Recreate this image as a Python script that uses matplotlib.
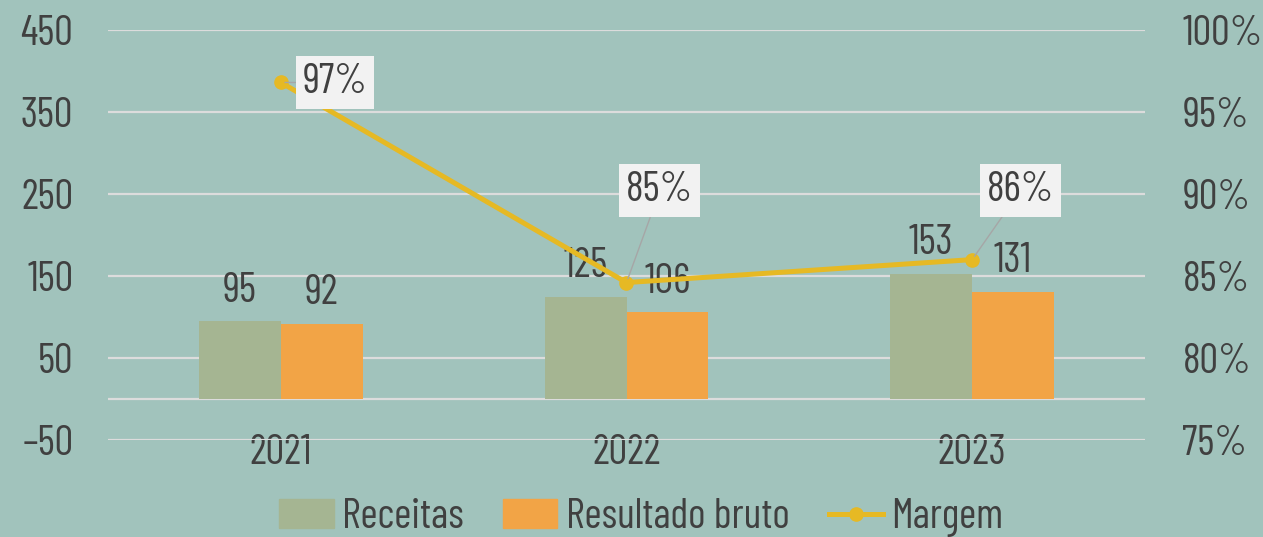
import matplotlib
matplotlib.use("Agg")
import matplotlib.pyplot as plt
from matplotlib.patches import Patch
from matplotlib.lines import Line2D

# data
anos = ["2021", "2022", "2023"]
receitas = [95, 125, 153]
resultado = [92, 106, 131]
margem = [0.968, 0.846, 0.860]
margem_labels = ["97%", "85%", "86%"]

bg = "#a1c3bc"
c_rec = "#a5b592"
c_res = "#f2a446"
c_mar = "#e6b924"
c_txt = "#404040"
c_grid = "#dcdcdc"

plt.rcParams["font.family"] = ["Barlow Condensed", "DejaVu Sans"]
fs = 30

fig = plt.figure(figsize=(12.63, 5.37), dpi=100, facecolor=bg)
ax = fig.add_axes([108 / 1263, 97 / 537, 1037 / 1263, 410 / 537])
ax.set_facecolor(bg)

x = list(range(len(anos)))
w = 0.237
b1 = ax.bar([i - w / 2 for i in x], receitas, w, color=c_rec, zorder=3)
b2 = ax.bar([i + w / 2 for i in x], resultado, w, color=c_res, zorder=3)

# value labels on the bars
for bars, vals in ((b1, receitas), (b2, resultado)):
    for bar, v in zip(bars, vals):
        ax.annotate(str(v), (bar.get_x() + bar.get_width() / 2, v),
                    xytext=(0, 14), textcoords="offset points",
                    ha="center", va="baseline", fontsize=fs, color=c_txt, zorder=5)

ax.set_xlim(-0.5, 2.5)
ax.set_ylim(-50, 450)
ax.set_yticks([-50, 50, 150, 250, 350, 450])
ax.set_yticklabels(["\u201350", "50", "150", "250", "350", "450"])
ax.yaxis.grid(True, color=c_grid, lw=1.6, zorder=0)
ax.axhline(0, color=c_grid, lw=1.6, zorder=1)
ax.set_axisbelow(True)
ax.set_xticks(x)
ax.set_xticklabels(anos)
ax.tick_params(axis="y", length=0, pad=25, labelsize=fs, labelcolor=c_txt)
ax.tick_params(axis="x", length=0, pad=-4, labelsize=fs, labelcolor=c_txt)
for s in ax.spines.values():
    s.set_visible(False)

ax2 = ax.twinx()
ax2.set_ylim(0.75, 1.0)
ax2.set_yticks([0.75, 0.80, 0.85, 0.90, 0.95, 1.0])
ax2.set_yticklabels(["75%", "80%", "85%", "90%", "95%", "100%"])
ax2.tick_params(axis="y", length=0, pad=27, labelsize=fs, labelcolor=c_txt)
for s in ax2.spines.values():
    s.set_visible(False)
ax2.plot(x, margem, color=c_mar, lw=3.6, marker="o", ms=9.5, zorder=4)

# margem labels in boxes with leader lines
offsets = [(39, 0), (24, 66), (35, 50)]
for i, (m, lab) in enumerate(zip(margem, margem_labels)):
    ax2.annotate(lab, (i, m), xytext=offsets[i], textcoords="offset points",
                 ha="center", va="center", fontsize=fs, color=c_txt, zorder=6,
                 bbox=dict(boxstyle="square,pad=0.17", fc="#f2f2f2", ec="none"),
                 arrowprops=dict(arrowstyle="-", color="#a6a6a6", lw=1,
                                 shrinkA=0, shrinkB=3))

handles = [Patch(color=c_rec), Patch(color=c_res),
           Line2D([], [], color=c_mar, lw=3.6, marker="o", ms=9.5)]
fig.legend(handles, ["Receitas", "Resultado bruto", "Margem"], loc="center",
           bbox_to_anchor=(0.508, 0.036), ncol=3, frameon=False, fontsize=fs,
           labelcolor=c_txt, handlelength=1.3, handleheight=0.7,
           handletextpad=0.2, columnspacing=0.95)

fig.savefig("out.png", dpi=100, facecolor=bg)
